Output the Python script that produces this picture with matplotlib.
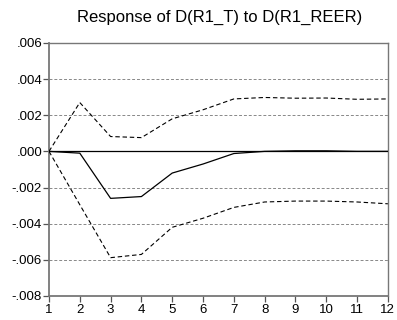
import matplotlib
matplotlib.use("Agg")
import matplotlib.pyplot as plt
from matplotlib.ticker import FuncFormatter

periods = [1, 2, 3, 4, 5, 6, 7, 8, 9, 10, 11, 12]
response = [0.0, -0.0001, -0.0026, -0.0025, -0.0012, -0.0007, -0.00012, 0.0, 0.00003, 0.00003, 0.0, 0.0]
upper = [0.0, 0.0027, 0.00082, 0.00076, 0.0018, 0.0023, 0.0029, 0.00298, 0.00294, 0.00295, 0.00288, 0.0029]
lower = [0.0, -0.00295, -0.00588, -0.0057, -0.0042, -0.0037, -0.0031, -0.0028, -0.00275, -0.00275, -0.0028, -0.0029]
yticks = [-0.008, -0.006, -0.004, -0.002, 0.0, 0.002, 0.004, 0.006]
title = "Response of D(R1_T) to D(R1_REER)"

plt.rcParams['font.family'] = ['Liberation Sans', 'DejaVu Sans']

fig = plt.figure(figsize=(3.97, 3.2), dpi=100)
ax = fig.add_axes([0.1234, 0.075, 0.8536, 0.791])

for yv in yticks:
    if yv != 0.0:
        ax.axhline(yv, color='#888888', lw=0.7, ls=(0, (3, 2)), zorder=1)
ax.axhline(0.0, color='black', lw=0.9, zorder=2)

ax.plot(periods, response, color='black', lw=0.9, zorder=3)
ax.plot(periods, upper, color='black', lw=0.8, ls=(0, (4, 2.5)), zorder=3)
ax.plot(periods, lower, color='black', lw=0.8, ls=(0, (4, 2.5)), zorder=3)

ax.set_xlim(1, 12)
ax.set_ylim(-0.008, 0.006)
ax.set_xticks(periods)
ax.set_yticks(yticks)

def fmt(v, pos):
    s = f"{v:.3f}"
    if s.startswith("-0"):
        s = "-" + s[2:]
    elif s.startswith("0"):
        s = s[1:]
    return s
ax.yaxis.set_major_formatter(FuncFormatter(fmt))

for sp in ax.spines.values():
    sp.set_color('#777777')
    sp.set_linewidth(1.0)
ax.spines['left'].set_linewidth(1.3)
ax.spines['bottom'].set_linewidth(1.3)
ax.tick_params(direction='out', length=4, width=0.9, color='#555555', labelsize=9.5, pad=1)
ax.tick_params(axis='x', pad=2)

fig.text(0.5535, 1 - 17.5 / 320, title, fontsize=12, ha='center', va='center')

fig.savefig("out.png", dpi=100)
